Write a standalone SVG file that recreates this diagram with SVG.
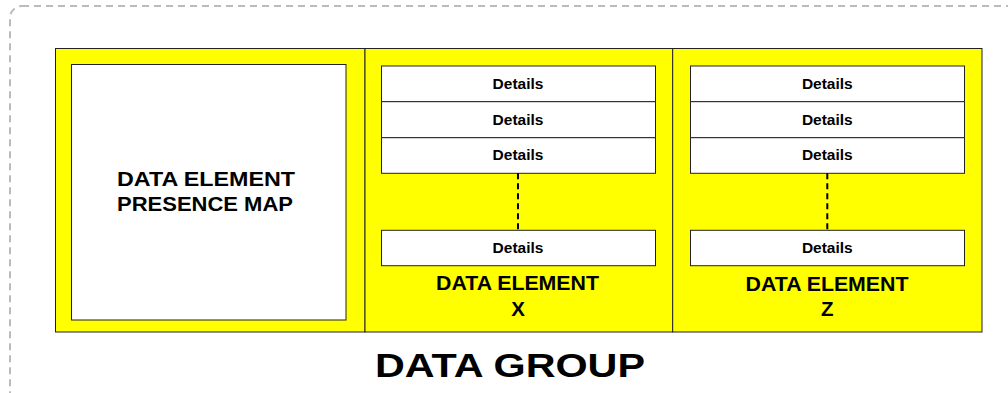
<svg xmlns="http://www.w3.org/2000/svg" width="1008" height="393" viewBox="0 0 1008 393">
  <style>
    .frame { fill: none; stroke: #bbbbbb; stroke-width: 2; stroke-dasharray: 7 5; }
    .panel { fill: #ffff00; stroke: #222222; stroke-width: 1; }
    .box { fill: #ffffff; stroke: #222222; stroke-width: 1; }
    .lbl { font-family: "Liberation Sans", Arial, sans-serif; font-weight: bold; fill: #000000; text-anchor: middle; }
    .det { font-size: 15.5px; }
    .big { font-size: 20.5px; }
    .title { font-size: 34px; }
    .link { fill: none; stroke: #000000; stroke-width: 2; stroke-dasharray: 6 4; }
  </style>
  <rect class="frame" x="10" y="6" width="1010" height="400" rx="12" ry="12"/>

  <g id="presence-map">
    <rect class="panel" x="55.5" y="48.5" width="309.5" height="283.5"/>
    <rect class="box" x="71.5" y="64.5" width="274.5" height="255.5"/>
    <text class="lbl big" x="206" y="185.5" textLength="178" lengthAdjust="spacingAndGlyphs">DATA ELEMENT</text>
    <text class="lbl big" x="205" y="210.5" textLength="176" lengthAdjust="spacingAndGlyphs">PRESENCE MAP</text>
  </g>

  <g id="element-x">
    <rect class="panel" x="365" y="48.5" width="307.7" height="283.5"/>
    <rect class="box" x="381.5" y="66" width="274" height="35.7"/>
    <rect class="box" x="381.5" y="101.7" width="274" height="36"/>
    <rect class="box" x="381.5" y="137.7" width="274" height="35.6"/>
    <rect class="box" x="381.5" y="230.3" width="274" height="35.4"/>
    <text class="lbl det" x="518" y="88.7">Details</text>
    <text class="lbl det" x="518" y="124.5">Details</text>
    <text class="lbl det" x="518" y="160.3">Details</text>
    <text class="lbl det" x="518" y="253">Details</text>
    <text class="lbl big" x="517.5" y="290" textLength="163" lengthAdjust="spacingAndGlyphs">DATA ELEMENT</text>
    <text class="lbl big" x="518" y="315.7">X</text>
  </g>

  <g id="element-z">
    <rect class="panel" x="672.7" y="48.5" width="309.3" height="283.5"/>
    <rect class="box" x="690.5" y="66" width="274" height="35.7"/>
    <rect class="box" x="690.5" y="101.7" width="274" height="36"/>
    <rect class="box" x="690.5" y="137.7" width="274" height="35.6"/>
    <rect class="box" x="690.5" y="230.3" width="274" height="35.4"/>
    <text class="lbl det" x="827.3" y="88.7">Details</text>
    <text class="lbl det" x="827.3" y="124.5">Details</text>
    <text class="lbl det" x="827.3" y="160.3">Details</text>
    <text class="lbl det" x="827.3" y="253">Details</text>
    <text class="lbl big" x="827" y="290.7" textLength="163" lengthAdjust="spacingAndGlyphs">DATA ELEMENT</text>
    <text class="lbl big" x="827.3" y="315.7">Z</text>
  </g>

  <g id="connectors">
    <line class="link" x1="518" y1="173.3" x2="518" y2="230.3"/>
    <line class="link" x1="827.3" y1="173.3" x2="827.3" y2="230.3"/>
  </g>

  <g id="data-group-label">
    <text class="lbl title" x="510" y="377.3" textLength="270" lengthAdjust="spacingAndGlyphs">DATA GROUP</text>
  </g>
</svg>
